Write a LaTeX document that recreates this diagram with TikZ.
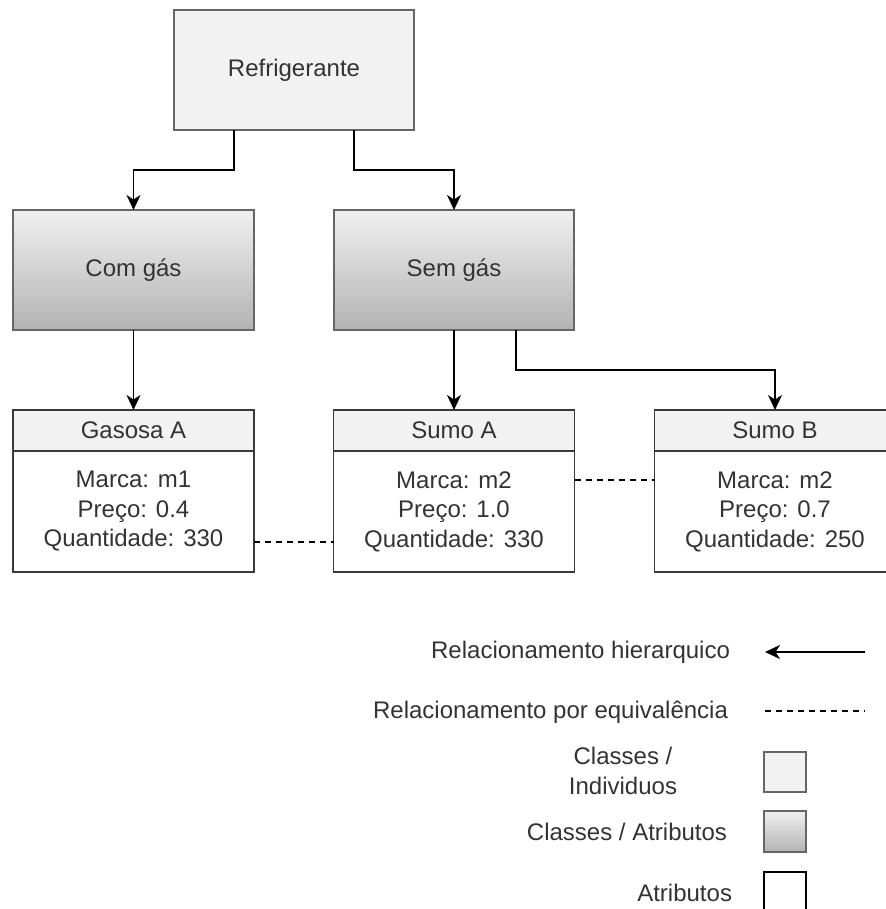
\documentclass[tikz,border=0pt]{standalone}
\usepackage{fontspec}
\setmainfont{Liberation Sans}
\usetikzlibrary{calc,arrows.meta}
\definecolor{txt}{HTML}{333333}
\definecolor{boxgray}{HTML}{F2F2F2}
\definecolor{edge}{HTML}{666666}
\definecolor{attredge}{HTML}{3A3A3A}
\definecolor{shadetop}{HTML}{F0F0F0}
\definecolor{shadebot}{HTML}{B3B3B3}
\begin{document}
\begin{tikzpicture}[x=1pt,y=-1pt,
  font=\fontsize{24}{29.5}\selectfont, text=txt,
  every node/.style={inner sep=0pt, outer sep=0pt},
  classbox/.style={draw=edge, line width=1.5pt, fill=boxgray,
    minimum width=240pt, minimum height=120pt},
  shadedbox/.style={draw=edge, line width=1.5pt, top color=shadetop,
    bottom color=shadebot, minimum width=240pt, minimum height=120pt},
  headbox/.style={draw=attredge, line width=1.8pt, fill=boxgray,
    minimum width=241pt, minimum height=41pt},
  bodybox/.style={draw=attredge, line width=1.8pt, fill=white, align=center,
    minimum width=241pt, minimum height=121pt},
  hier/.style={draw=black, line width=1.8pt,
    -{Stealth[length=15pt,width=14pt,inset=4.5pt]}},
  equiv/.style={draw=black, line width=1.6pt, dash pattern=on 6pt off 5pt},
]
\useasboundingbox (0,0) rectangle (885,909);

% hierarchy of classes
\node[classbox]  (ref) at (294,70)    {Refrigerante};
\node[shadedbox, minimum width=241pt] (com) at (133.5,270) {Com gás};
\node[shadedbox] (sem) at (454,270)   {Sem gás};

% individuals with their attributes
\node[headbox] (gah) at (133.5,430.5) {Gasosa A};
\node[bodybox] (gab) at (133.5,511.5) {Marca: m1\\Preço: 0.4\\Quantidade: 330};
\node[headbox] (sah) at (454,430.5)   {Sumo A};
\node[bodybox] (sab) at (454,511.5)   {Marca: m2\\Preço: 1.0\\Quantidade: 330};
\node[headbox] (sbh) at (775,430.5)   {Sumo B};
\node[bodybox] (sbb) at (775,511.5)   {Marca: m2\\Preço: 0.7\\Quantidade: 250};

% hierarchical links
\draw[hier] ($(ref.south west)!0.25!(ref.south east)$) -- ++(0,40) -| (com.north);
\draw[hier] ($(ref.south west)!0.75!(ref.south east)$) -- ++(0,40) -| (sem.north);
\draw[hier] (com.south) -- (gah.north);
\draw[hier] (sem.south) -- (sah.north);
\draw[hier] ($(sem.south west)!0.758!(sem.south east)$) -- ++(0,40) -| (sbh.north);

% equivalence links
\draw[equiv] ($(gab.east)+(0,30.5)$) -- ($(sab.west)+(0,30.5)$);
\draw[equiv] ($(sab.east)+(0,-31.5)$) -- ($(sbb.west)+(0,-31.5)$);

% legend
\node[anchor=east] (lh) at (730,652) {Relacionamento hierarquico};
\coordinate (lhs) at (865,652);
\coordinate (lhe) at (765,652);
\draw[hier] (lhs) -- (lhe);

\node[anchor=east] (le) at (728,712) {Relacionamento por equivalência};
\coordinate (les) at (765,711);
\coordinate (lee) at (865,711);
\draw[equiv] (les) -- (lee);

\node[align=center] (lci) at (623,771) {Classes /\\Individuos};
\node[classbox, minimum width=42pt, minimum height=40pt] (lcibox) at (785,772) {};

\node[anchor=east] (lca) at (727,832) {Classes / Atributos};
\node[shadedbox, minimum width=42pt, minimum height=41pt] (lcabox) at (785,831.5) {};

\node[anchor=east] (lat) at (732,893) {Atributos};
\node[draw=black, line width=1.8pt, fill=white, minimum width=42pt,
  minimum height=44pt] (latbox) at (785,894) {};
\end{tikzpicture}
\end{document}
